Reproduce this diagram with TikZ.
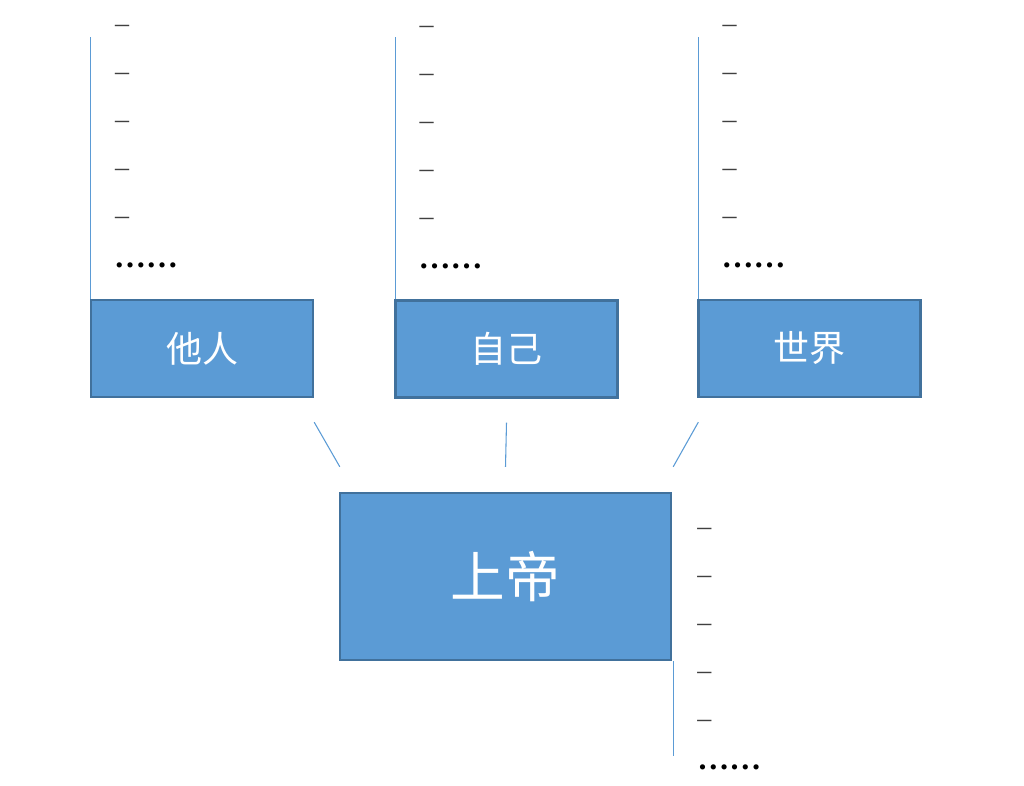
\documentclass[tikz,border=0pt]{standalone}
\usepackage{fontspec}
\setmainfont{Liberation Serif}
\newfontfamily\cjk{Noto Sans CJK SC}
\usetikzlibrary{calc}
\definecolor{boxblue}{HTML}{5B9BD5}
\definecolor{boxline}{HTML}{41719C}

\begin{document}
\begin{tikzpicture}[x=0.75pt,y=-0.75pt]
\useasboundingbox (0,0) rectangle (1024,785);

%boxes
\tikzstyle{smallbox} = [draw=boxline, line width=1.8pt, fill=boxblue, rectangle, inner sep=0pt, minimum width=166.5pt, minimum height=72.75pt, text=white, font=\cjk\fontsize{27}{27}\selectfont]
\tikzstyle{bigbox} = [smallbox, minimum width=248.25pt, minimum height=125.25pt, font=\cjk\fontsize{41}{41}\selectfont]
\tikzstyle{link} = [draw=boxblue, line width=0.8pt]
\tikzstyle{item} = [inner sep=0pt, anchor=base west, text=black!75, font=\fontsize{21}{21}\selectfont]
\tikzstyle{more} = [item, text=black, font=\fontsize{24}{24}\selectfont\bfseries]

\node (others) [smallbox] at (202,348.5)   {他人};
\node (self)   [smallbox] at (506.5,349)   {自己};
\node (world)  [smallbox] at (809.5,348.5) {世界};
\node (god)    [bigbox]   at (505.5,576.5) {上帝};

%lists above the three boxes
\foreach \who in {others,self,world}{
  \coordinate (\who-top) at ($(\who.north west)+(1,-262)$);
  \draw[link] (\who.north west) ++(1,0) -- (\who-top);
  \foreach \i in {1,...,5}
    \node (\who-\i) [item] at ($(\who.north west)+(25,-266+48*\i-48)$) {–};
  \node (\who-dots) [more] at ($(\who.north west)+(24,-31)$) {……};
}

%list beside god
\coordinate (god-bottom) at ($(god.south east)+(1,95)$);
\draw[link] (god.south east) ++(1,0) -- (god-bottom);
\foreach \i in {1,...,5}
  \node (god-\i) [item] at ($(god.north east)+(25,44+48*\i-48)$) {–};
\node (god-dots) [more] at ($(god.north east)+(25,278)$) {……};

%links to god
\draw[link] ($(others.south east)+(0,24)$) -- ($(god.north west)+(1,-25)$);
\draw[link] ($(self.south)+(0,24)$) -- ($(god.north)+(0,-25)$);
\draw[link] ($(world.south west)+(1,24)$) -- ($(god.north east)+(1,-25)$);

\end{tikzpicture}
\end{document}
